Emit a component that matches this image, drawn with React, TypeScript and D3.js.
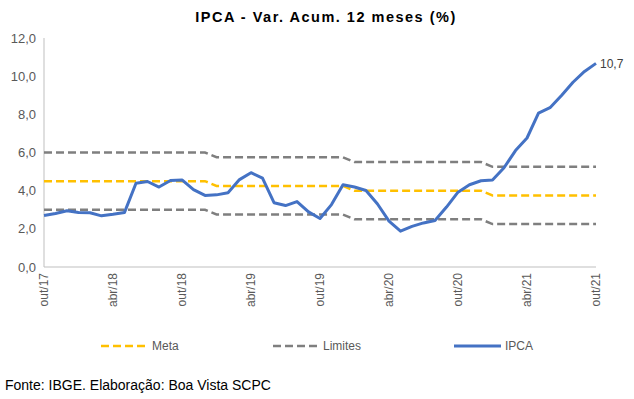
import { useMemo } from "react";
import * as d3 from "d3";

const monthNames = ["jan", "fev", "mar", "abr", "mai", "jun", "jul", "ago", "set", "out", "nov", "dez"];

// out/17 .. out/21
const ipca = [
  2.70, 2.80, 2.95,
  2.86, 2.84, 2.68, 2.76, 2.86, 4.39, 4.48, 4.19, 4.53, 4.56, 4.05, 3.75,
  3.78, 3.89, 4.58, 4.94, 4.66, 3.37, 3.22, 3.43, 2.89, 2.54, 3.27, 4.31,
  4.19, 4.01, 3.30, 2.40, 1.88, 2.13, 2.31, 2.44, 3.14, 3.92, 4.31, 4.52,
  4.56, 5.20, 6.10, 6.76, 8.06, 8.35, 8.99, 9.68, 10.25, 10.67,
];

const metaByYear: Record<number, number> = { 2017: 4.5, 2018: 4.5, 2019: 4.25, 2020: 4.0, 2021: 3.75 };
const tolerance = 1.5;

const yTicks = [0, 2, 4, 6, 8, 10, 12];

const W = 634;
const H = 399;
const margin = { left: 44, right: 38, top: 38, bottom: 132 };

function labelFor(i: number) {
  const m = (9 + i) % 12;
  const y = 17 + Math.floor((9 + i) / 12);
  return `${monthNames[m]}/${y}`;
}

export default function App() {
  const data = useMemo(
    () =>
      ipca.map((v, i) => {
        const year = 2017 + Math.floor((9 + i) / 12);
        const meta = metaByYear[year];
        return { i, ipca: v, meta, lo: meta - tolerance, hi: meta + tolerance };
      }),
    []
  );

  const x = d3.scaleLinear().domain([0, ipca.length - 1]).range([margin.left, W - margin.right]);
  const y = d3.scaleLinear().domain([0, 12]).range([H - margin.bottom, margin.top]);

  const line = (key: "ipca" | "meta" | "lo" | "hi") =>
    d3.line<(typeof data)[number]>().x((d) => x(d.i)).y((d) => y(d[key]))(data) || "";

  const fmt = (v: number) => v.toFixed(1).replace(".", ",");
  const xTicks = d3.range(0, ipca.length, 6);
  const last = data[data.length - 1];
  const font = "'Liberation Sans', Arial, sans-serif";
  const legendY = 346;

  return (
    <svg width={W} height={H} style={{ position: "absolute", left: 0, top: 0, background: "#fff" }} fontFamily={font}>
      <text x={W / 2 + 9} y={22} textAnchor="middle" fontSize={14.5} fontWeight="bold" letterSpacing={1.5} fill="#000">
        IPCA - Var. Acum. 12 meses (%)
      </text>

      {yTicks.map((t) => (
        <text key={t} x={margin.left - 8} y={y(t)} dy="0.35em" textAnchor="end" fontSize={13} fill="#595959">
          {fmt(t)}
        </text>
      ))}

      <line x1={margin.left} x2={margin.left} y1={y(12)} y2={y(0)} stroke="#bfbfbf" strokeWidth={1} />
      <line x1={margin.left} x2={W - margin.right} y1={y(0)} y2={y(0)} stroke="#bfbfbf" strokeWidth={1} />

      {xTicks.map((t) => (
        <text
          key={t}
          transform={`translate(${x(t)},${y(0) + 6}) rotate(-90)`}
          dy="0.35em"
          textAnchor="end"
          fontSize={12}
          fill="#595959"
        >
          {labelFor(t)}
        </text>
      ))}

      <path d={line("hi")} fill="none" stroke="#7f7f7f" strokeWidth={2.5} strokeDasharray="8,4" />
      <path d={line("lo")} fill="none" stroke="#7f7f7f" strokeWidth={2.5} strokeDasharray="8,4" />
      <path d={line("meta")} fill="none" stroke="#ffc000" strokeWidth={2.5} strokeDasharray="8,4" />
      <path d={line("ipca")} fill="none" stroke="#4472c4" strokeWidth={3} strokeLinejoin="round" />

      <text x={x(last.i) + 4} y={y(last.ipca)} dy="0.35em" fontSize={12} fill="#404040">
        {fmt(last.ipca)}
      </text>

      <g fontSize={12} fill="#595959">
        <line x1={101} x2={147} y1={legendY} y2={legendY} stroke="#ffc000" strokeWidth={2.5} strokeDasharray="8,4" />
        <text x={152} y={legendY} dy="0.35em">Meta</text>
        <line x1={273} x2={318} y1={legendY} y2={legendY} stroke="#7f7f7f" strokeWidth={2.5} strokeDasharray="8,4" />
        <text x={323} y={legendY} dy="0.35em">Limites</text>
        <line x1={454} x2={501} y1={legendY} y2={legendY} stroke="#4472c4" strokeWidth={3} />
        <text x={505} y={legendY} dy="0.35em">IPCA</text>
      </g>

      <text x={5} y={390} fontSize={14} fill="#000">
        Fonte: IBGE. Elaboração: Boa Vista SCPC
      </text>
    </svg>
  );
}
